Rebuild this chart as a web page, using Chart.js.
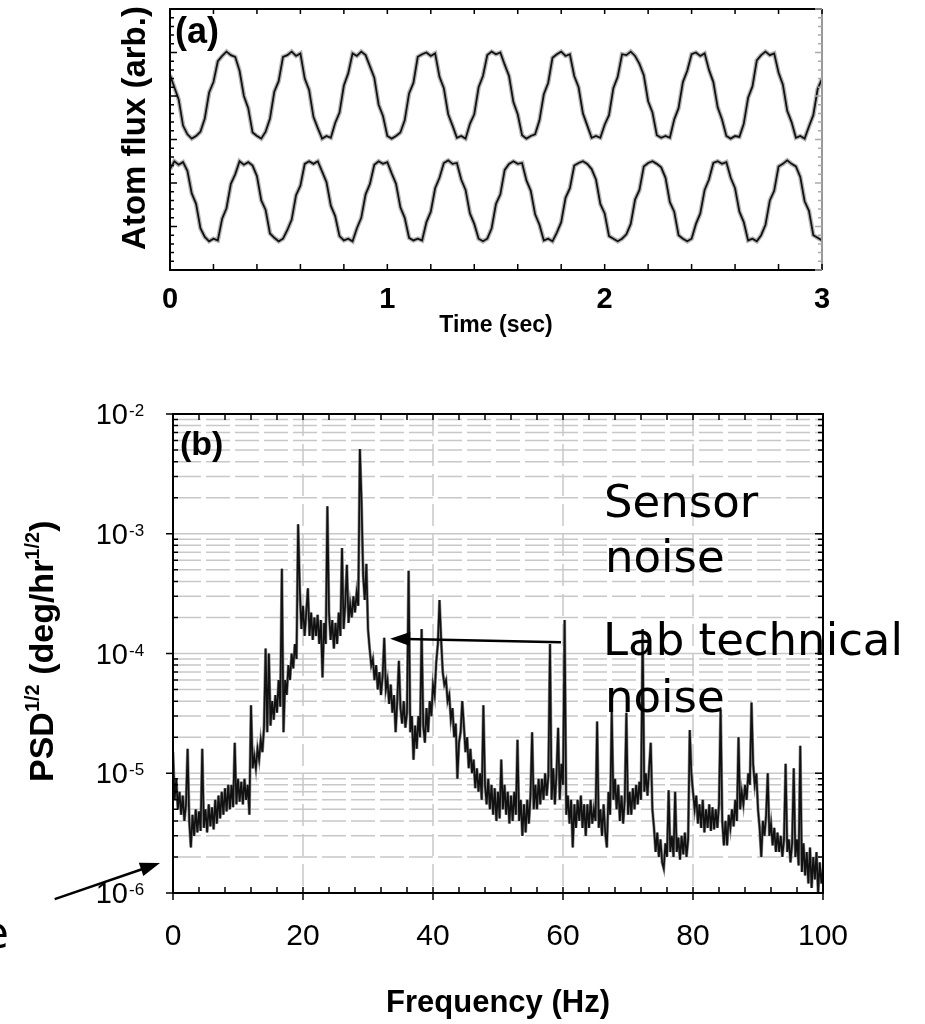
<!DOCTYPE html>
<html>
<head>
<meta charset="utf-8">
<script src="https://cdn.jsdelivr.net/npm/chart.js@4.4.0/dist/chart.umd.min.js"></script>
<style>
  html, body { margin: 0; padding: 0; background: #fff; }
  #wrap { position: relative; width: 925px; height: 1024px; overflow: hidden; }
  canvas { position: absolute; left: 0; }
</style>
</head>
<body>
<div id="wrap">
  <canvas id="fluxChart" width="925" height="360" style="top:0"></canvas>
  <canvas id="psdChart" width="925" height="664" style="top:360px"></canvas>
</div>
<script>
const FONT = "'Liberation Sans', Arial, Helvetica, sans-serif";
const NOTE_FONT = "'DejaVu Sans', Verdana, sans-serif";

// (a) atom flux, arbitrary units, one sample every 0.02 s from 0 to 3 s
const fluxTimeStep = 0.02;
const fluxUpper = [
  22.4, 21.0, 19.6, 16.6, 15.6, 15.1, 15.4, 15.9, 17.4, 20.4,
  21.6, 24.0, 24.6, 25.1, 24.7, 24.5, 22.9, 20.0, 18.6, 15.8,
  15.4, 15.1, 15.9, 17.4, 20.5, 21.7, 24.5, 24.7, 25.1, 24.6,
  24.9, 22.0, 20.7, 17.6, 16.3, 15.1, 15.4, 15.2, 16.9, 18.1,
  21.2, 22.6, 24.9, 24.6, 25.1, 24.7, 23.4, 22.1, 19.0, 17.7,
  15.4, 15.1, 15.4, 15.8, 17.2, 20.3, 21.5, 24.5, 24.8, 25.0,
  24.6, 24.9, 22.2, 20.9, 17.9, 16.6, 15.2, 15.4, 15.1, 16.8,
  17.9, 21.0, 22.3, 24.7, 25.1, 24.8, 25.0, 23.6, 22.3, 19.3,
  17.9, 15.5, 15.1, 15.4, 15.6, 17.2, 20.2, 21.5, 24.4, 24.8,
  25.1, 24.6, 24.8, 22.3, 21.0, 18.0, 16.6, 15.2, 15.4, 15.2,
  16.7, 17.8, 20.9, 22.2, 24.8, 24.7, 25.1, 24.6, 23.7, 22.4,
  19.4, 18.1, 15.5, 15.2, 15.4, 15.2, 17.3, 18.6, 21.6, 22.9,
  24.8, 25.0, 24.6, 24.9, 23.0, 21.6, 18.7, 17.3, 15.4, 15.1,
  15.4, 15.3, 16.8, 19.8, 21.1, 24.1, 24.7, 25.1, 24.7, 24.9,
  22.7, 21.3, 18.3, 17.0, 15.2, 15.4, 15.1, 16.5, 17.8, 20.8,
  22.0
];
const fluxLower = [
  11.6, 12.5, 12.1, 12.4, 11.4, 8.8, 7.6, 4.8, 3.8, 3.3,
  3.6, 3.4, 5.9, 7.1, 9.9, 11.0, 12.5, 12.1, 12.4, 12.0,
  10.8, 8.0, 6.9, 4.2, 3.7, 3.3, 3.6, 4.6, 5.8, 8.6,
  9.7, 12.2, 12.5, 12.2, 12.5, 11.3, 10.1, 7.4, 6.2, 3.9,
  3.4, 3.6, 3.3, 4.8, 6.0, 8.7, 9.9, 12.1, 12.5, 12.2,
  12.4, 11.1, 9.9, 7.2, 6.0, 3.7, 3.4, 3.6, 3.4, 5.5,
  6.7, 9.4, 10.6, 12.3, 12.6, 12.2, 12.3, 10.4, 9.2, 6.5,
  5.3, 3.6, 3.3, 3.6, 4.8, 7.6, 8.7, 11.5, 12.2, 12.5,
  12.2, 12.3, 10.3, 9.1, 6.4, 5.2, 3.4, 3.6, 3.3, 4.3,
  5.5, 8.3, 9.4, 12.0, 12.3, 12.5, 12.2, 11.6, 10.4, 7.6,
  6.5, 3.9, 3.6, 3.3, 3.6, 4.1, 5.3, 8.1, 9.2, 11.9,
  12.3, 12.5, 12.2, 11.8, 10.6, 7.8, 6.7, 4.0, 3.6, 3.3,
  3.6, 5.3, 6.5, 9.2, 10.4, 12.3, 12.5, 12.2, 12.4, 10.6,
  9.4, 6.7, 5.5, 3.4, 3.6, 3.3, 4.0, 5.2, 8.0, 9.1,
  11.9, 12.2, 12.6, 12.2, 11.9, 10.7, 7.9, 6.8, 4.0, 3.7,
  3.4
];
const timeTicks = [0, 1, 2, 3];

// (b) PSD^1/2 in deg/hr^1/2, one sample every 0.25 Hz from 0 to 100 Hz
const psdFreqStep = 0.25;
const psdValues = [
  1.5e-5,6e-6,9e-6,5e-6, 7e-6,4.5e-6,6.5e-6,4e-6, 5.5e-6,1.6e-5,4e-6,2.4e-6, 4.5e-6,3e-6,5e-6,3.2e-6, 4.8e-6,3.3e-6,1.6e-5,3.5e-6,
  5e-6,3.2e-6,5.5e-6,3.6e-6, 5.2e-6,3.4e-6,6e-6,3.8e-6, 6.5e-6,4.2e-6,7e-6,4.5e-6, 7.5e-6,4.8e-6,8e-6,5e-6, 8e-6,5.2e-6,1.8e-5,5.5e-6,
  9e-6,5.8e-6,8.5e-6,5.5e-6, 9e-6,6e-6,8e-6,4.5e-6, 3.7e-5,1.1e-5,1.4e-5,1.1e-5, 1.6e-5,1.3e-5,1.9e-5,1.5e-5, 2.4e-5,1.1e-4,2.2e-5,1e-4,
  2.5e-5,4e-5,2.8e-5,4.5e-5, 3.2e-5,6e-5,3.6e-5,5.1e-4, 2.2e-5,6e-5,4.5e-5,8e-5, 6e-5,1e-4,7.5e-5,1.2e-4, 9e-5,1.2e-3,3.5e-4,1.6e-4,
  2.5e-4,1.4e-4,2.2e-4,3.5e-4, 1.4e-4,2.2e-4,1.3e-4,2e-4, 1.4e-4,2.1e-4,1.2e-4,1.9e-4, 6.3e-5,1.8e-4,1.2e-4,1.7e-3, 2.2e-4,1.3e-4,1.9e-4,1.1e-4,
  1.8e-4,1.2e-4,2.2e-4,1.4e-4, 7.6e-4,1.6e-4,2.6e-4,5.5e-4, 1.8e-4,2.6e-4,2e-4,3e-4, 2.2e-4,3.2e-4,2.5e-4,5.1e-3, 1.9e-3,4.5e-4,2.8e-4,5.6e-4,
  1.6e-4,1.1e-4,8e-5,9e-5, 6e-5,8e-5,5e-5,7e-5, 4.5e-5,6.5e-5,1.35e-4,5e-5, 6e-5,3.8e-5,5.5e-5,3.2e-5, 4.5e-5,2.2e-5,4e-5,8.7e-5,
  3.5e-5,2.6e-5,4e-5,2.4e-5, 3.2e-5,4.9e-4,2.2e-5,3e-5, 1.3e-5,2.5e-5,1.6e-5,3e-5, 2e-5,1.6e-4,2.5e-5,1.8e-5, 3.5e-5,2.2e-5,4e-5,3e-5,
  5.5e-5,4.5e-5,8.5e-5,1.2e-4, 2.8e-4,1.3e-4,7e-5,5.5e-5, 6e-5,4e-5,4.5e-5,2.8e-5, 3.5e-5,2e-5,2.6e-5,9e-6, 1.8e-5,2.2e-5,4e-5,2.5e-5,
  1.5e-5,2e-5,1.1e-5,1.6e-5, 1e-5,1.3e-5,7.5e-6,1.1e-5, 7e-6,1e-5,6e-6,3.7e-5, 8e-6,5.5e-6,9e-6,5e-6, 8e-6,4.5e-6,7.5e-6,4e-6,
  7e-6,4.2e-6,1.3e-5,5e-6, 8e-6,4.5e-6,7e-6,3.8e-6, 6.5e-6,4e-6,7e-6,4.5e-6, 1.9e-5,4e-6,6e-6,3e-6, 5.5e-6,3.2e-6,6e-6,3.8e-6,
  6.5e-6,2.2e-5,5e-6,8e-6, 5e-6,9e-6,5.5e-6,9e-6, 6e-6,1e-5,6.5e-6,9.5e-6, 1.2e-4,6e-6,1.1e-5,5.5e-6, 1e-5,2.4e-5,6e-6,1.2e-5,
  8e-6,1.9e-4,4.5e-6,6.5e-6, 3.8e-6,6e-6,2.4e-6,5.5e-6, 3.5e-6,6e-6,4e-6,6.5e-6, 3.5e-6,5.5e-6,3e-6,5.5e-6, 3.5e-6,6e-6,3.8e-6,5e-6,
  4e-6,2.7e-5,3.5e-6,5e-6, 3e-6,5.5e-6,3.2e-6,2.4e-6, 7e-6,4.5e-6,3.3e-5,6e-6, 9e-6,5e-6,8e-6,4e-6, 6.5e-6,3.8e-6,6e-6,3.2e-5,
  4.5e-6,7e-6,4.5e-6,7.5e-6, 5e-6,8e-6,5.5e-6,8.5e-6, 6e-6,1.6e-4,7e-6,1e-5, 6.5e-6,1.1e-5,1.8e-5,5e-6, 3.5e-6,2.2e-6,3.2e-6,2e-6,
  2.8e-6,1.8e-6,1.6e-6,2.6e-6, 2e-6,7.2e-6,2.2e-6,3e-6, 2e-6,7e-6,2.2e-6,2.9e-6, 1.9e-6,3e-6,2.1e-6,3.2e-6, 2e-6,2.8e-6,2.3e-5,1e-5,
  7e-6,5e-6,6.5e-6,3.8e-6, 5.5e-6,3.5e-6,6e-6,3.2e-6, 5e-6,3.5e-6,5.5e-6,3.3e-6, 5.2e-6,3.4e-6,5e-6,3.5e-6, 5.5e-6,3.4e-5,4e-6,2.5e-6,
  4e-6,2.5e-6,4.5e-6,3.5e-6, 5e-6,3.6e-6,6e-6,4e-6, 2e-5,5e-6,7e-6,5.5e-6, 8e-6,6e-6,1e-5,8e-6, 3.9e-5,1.2e-5,8e-6,1e-5,
  5e-6,3.5e-6,2e-6,4e-6, 3e-6,4.5e-6,1e-5,3e-6, 3.8e-6,2.5e-6,3.5e-6,2.2e-6, 3.2e-6,2.2e-6,3e-6,2e-6, 2.8e-6,1.2e-5,2.2e-6,2.8e-6,
  1.8e-6,2.6e-6,1.1e-5,2e-6, 2.8e-6,1.7e-6,1.7e-5,1.5e-6, 2.6e-6,1.4e-6,2.2e-6,1.2e-6, 2.4e-6,1.1e-6,2e-6,1.3e-6, 2.2e-6,1e-6,1.8e-6,1.2e-6,
  1.6e-6
];
const freqTicks = [0, 20, 40, 60, 80, 100];
const freqGrid = [20, 40, 60, 80];
const psdDecades = [1e-6, 1e-5, 1e-4, 1e-3, 1e-2];
const psdDecadeExp = ['-6', '-5', '-4', '-3', '-2'];
const logMinor = [2, 3, 4, 5, 6, 7, 8, 9];

function drawArrow(ctx, x1, y1, x2, y2, head, half) {
  const a = Math.atan2(y2 - y1, x2 - x1);
  const c = Math.cos(a), s = Math.sin(a);
  ctx.beginPath();
  ctx.moveTo(x1, y1);
  ctx.lineTo(x2 - head * 0.8 * c, y2 - head * 0.8 * s);
  ctx.stroke();
  ctx.beginPath();
  ctx.moveTo(x2, y2);
  ctx.lineTo(x2 - head * c + half * s, y2 - head * s - half * c);
  ctx.lineTo(x2 - head * c - half * s, y2 - head * s + half * c);
  ctx.closePath();
  ctx.fill();
}

// a line drawn twice: a soft grey halo under a dark core, like the scanned trace
function tracePair(points, coreWidth, haloWidth, haloColor) {
  return [
    {data: points, borderColor: '#111', borderWidth: coreWidth, pointRadius: 0, tension: 0, order: 1},
    {data: points, borderColor: haloColor, borderWidth: haloWidth, pointRadius: 0, tension: 0, order: 2}
  ];
}

// frame, inward ticks and labels of panel (a)
const fluxDecor = {
  id: 'fluxDecor',
  afterDatasetsDraw(chart) {
    const {ctx, chartArea: a, scales: {x, y}} = chart;
    ctx.save();
    ctx.lineWidth = 2;
    ctx.strokeStyle = '#000';
    ctx.beginPath();
    ctx.moveTo(a.right, a.top); ctx.lineTo(a.left, a.top);
    ctx.lineTo(a.left, a.bottom); ctx.lineTo(a.right, a.bottom);
    ctx.stroke();
    ctx.strokeStyle = '#999';
    ctx.beginPath(); ctx.moveTo(a.right, a.top); ctx.lineTo(a.right, a.bottom); ctx.stroke();

    ctx.lineWidth = 1.5;
    ctx.strokeStyle = '#000';
    ctx.beginPath();
    for (let k = 0; k <= 15; k++) {
      const px = x.getPixelForValue(k * 0.2);
      ctx.moveTo(px, a.bottom); ctx.lineTo(px, a.bottom - 6);
      ctx.moveTo(px, a.top); ctx.lineTo(px, a.top + 5);
    }
    for (let v = 0; v <= 30; v++) {
      const py = y.getPixelForValue(v);
      ctx.moveTo(a.left, py); ctx.lineTo(a.left + (v % 5 === 0 ? 7 : 4), py);
    }
    ctx.stroke();
    ctx.strokeStyle = '#aaa';
    ctx.beginPath();
    for (let v = 0; v <= 30; v++) {
      const py = y.getPixelForValue(v);
      ctx.moveTo(a.right, py); ctx.lineTo(a.right - (v % 5 === 0 ? 7 : 4), py);
    }
    ctx.stroke();

    ctx.fillStyle = '#000';
    ctx.font = `bold 36px ${FONT}`;
    ctx.textBaseline = 'alphabetic';
    ctx.fillText('(a)', a.left + 5, 43);
    ctx.translate(145, 128);
    ctx.rotate(-Math.PI / 2);
    ctx.font = `bold 33px ${FONT}`;
    ctx.textAlign = 'center';
    ctx.fillText('Atom flux (arb.)', 0, 0);
    ctx.restore();
  }
};

// grid, frame, ticks, power labels and notes of panel (b)
const psdDecor = {
  id: 'psdDecor',
  beforeDatasetsDraw(chart) {
    const {ctx, chartArea: a, scales: {x, y}} = chart;
    ctx.save();
    ctx.strokeStyle = '#c8c8c8';
    ctx.lineWidth = 1.5;
    psdDecades.slice(0, -1).forEach(d => {
      ctx.setLineDash([]);
      const p0 = y.getPixelForValue(d);
      ctx.beginPath(); ctx.moveTo(a.left, p0); ctx.lineTo(a.right, p0); ctx.stroke();
      ctx.setLineDash([24, 5]);
      logMinor.forEach(m => {
        const py = y.getPixelForValue(m * d);
        ctx.beginPath(); ctx.moveTo(a.left + 4, py); ctx.lineTo(a.right, py); ctx.stroke();
      });
    });
    ctx.setLineDash([22, 8]);
    freqGrid.forEach(f => {
      const px = x.getPixelForValue(f);
      ctx.beginPath(); ctx.moveTo(px, a.top); ctx.lineTo(px, a.bottom); ctx.stroke();
    });
    ctx.restore();
  },
  afterDatasetsDraw(chart) {
    const {ctx, chartArea: a, scales: {x, y}} = chart;
    ctx.save();
    ctx.strokeStyle = '#000';
    ctx.lineWidth = 2;
    ctx.strokeRect(a.left, a.top, a.right - a.left, a.bottom - a.top);

    ctx.lineWidth = 1.5;
    ctx.beginPath();
    for (let f = 0; f <= 100; f += 4) {
      const px = x.getPixelForValue(f);
      ctx.moveTo(px, a.bottom); ctx.lineTo(px, a.bottom - 6);
      ctx.moveTo(px, a.top); ctx.lineTo(px, a.top + 6);
    }
    freqTicks.forEach(f => {
      const px = x.getPixelForValue(f);
      ctx.moveTo(px, a.bottom); ctx.lineTo(px, a.bottom + 7);
    });
    psdDecades.forEach(d => {
      const py = y.getPixelForValue(d);
      ctx.moveTo(a.left - 7, py); ctx.lineTo(a.left, py);
      ctx.moveTo(a.right, py); ctx.lineTo(a.right - 8, py);
      if (d < 1e-2) {
        logMinor.forEach(m => {
          const pm = y.getPixelForValue(m * d);
          ctx.moveTo(a.left, pm); ctx.lineTo(a.left + 5, pm);
          ctx.moveTo(a.right, pm); ctx.lineTo(a.right - 5, pm);
        });
      }
    });
    ctx.stroke();

    ctx.fillStyle = '#000';
    ctx.textBaseline = 'alphabetic';
    psdDecades.forEach((d, i) => {
      const py = y.getPixelForValue(d);
      ctx.textAlign = 'right';
      ctx.font = `29px ${FONT}`;
      ctx.fillText('10', 128, py + 10);
      ctx.textAlign = 'left';
      ctx.font = `17px ${FONT}`;
      ctx.fillText(psdDecadeExp[i], 129, py + 2);
    });

    ctx.font = `bold 34px ${FONT}`;
    ctx.fillText('(b)', a.left + 7, 95);

    // rotated axis title with superscripts
    ctx.save();
    ctx.translate(53, 422);
    ctx.rotate(-Math.PI / 2);
    let cx = 0;
    [['PSD', 34, 0], ['1/2', 20, -14], [' (deg/hr', 34, 0], ['1/2', 20, -14], [')', 34, 0]].forEach(([t, s, dy]) => {
      ctx.font = `bold ${s}px ${FONT}`;
      ctx.fillText(t, cx, dy);
      cx += ctx.measureText(t).width;
    });
    ctx.restore();

    ctx.font = `45px ${NOTE_FONT}`;
    ctx.fillText('Sensor', 604, 157);
    ctx.fillText('noise', 605, 212);
    ctx.fillText('Lab technical', 603, 295);
    ctx.fillText('noise', 605, 352);
    ctx.textAlign = 'right';
    ctx.fillText('noise', 9, 588);

    ctx.lineWidth = 2.5;
    drawArrow(ctx, x.getPixelForValue(59.7), y.getPixelForValue(1.24e-4),
      x.getPixelForValue(33.4), y.getPixelForValue(1.33e-4), 20, 7);
    drawArrow(ctx, x.getPixelForValue(-18.2), y.getPixelForValue(8.9e-7),
      x.getPixelForValue(-2), y.getPixelForValue(1.78e-6), 20, 7);
    ctx.restore();
  }
};

let fluxChart = new Chart(document.getElementById('fluxChart').getContext('2d'), {
  type: 'line',
  data: {
    datasets: [fluxUpper, fluxLower].flatMap(series =>
      tracePair(series.map((v, i) => ({x: i * fluxTimeStep, y: v})), 1.8, 4.5, '#b5b5b5'))
  },
  options: {
    responsive: false,
    animation: false,
    devicePixelRatio: 1,
    layout: {padding: {top: 9, right: 103, left: 0, bottom: 0}},
    plugins: {legend: {display: false}, tooltip: {enabled: false}},
    scales: {
      x: {
        type: 'linear', min: 0, max: 3,
        afterBuildTicks: s => { s.ticks = timeTicks.map(v => ({value: v})); },
        afterFit: s => { s.height = 90; },
        grid: {display: false, drawTicks: false},
        border: {display: false},
        ticks: {color: '#000', padding: 13, maxRotation: 0, font: {family: FONT, size: 29, weight: 'bold'}},
        title: {display: true, text: 'Time (sec)', color: '#000', padding: {top: 0, bottom: 21},
          font: {family: FONT, size: 23, weight: 'bold'}}
      },
      y: {
        min: 0, max: 30,
        afterFit: s => { s.width = 170; },
        grid: {display: false},
        border: {display: false},
        ticks: {display: false}
      }
    }
  },
  plugins: [fluxDecor]
});

let psdChart = new Chart(document.getElementById('psdChart').getContext('2d'), {
  type: 'line',
  data: {
    datasets: tracePair(psdValues.map((v, i) => ({x: i * psdFreqStep, y: v})), 1.7, 3, '#8c8c8c')
  },
  options: {
    responsive: false,
    animation: false,
    devicePixelRatio: 1,
    layout: {padding: {top: 54, right: 102, left: 0, bottom: 0}},
    plugins: {legend: {display: false}, tooltip: {enabled: false}},
    scales: {
      x: {
        type: 'linear', min: 0, max: 100,
        afterBuildTicks: s => { s.ticks = freqTicks.map(v => ({value: v})); },
        afterFit: s => { s.height = 131; },
        grid: {display: false, drawTicks: false},
        border: {display: false},
        ticks: {color: '#000', padding: 26, maxRotation: 0, font: {family: FONT, size: 30}},
        title: {display: true, text: 'Frequency (Hz)', color: '#000', padding: {top: 0, bottom: 2},
          font: {family: FONT, size: 31, weight: 'bold'}}
      },
      y: {
        type: 'logarithmic', min: 1e-6, max: 1e-2,
        afterFit: s => { s.width = 173; },
        grid: {display: false},
        border: {display: false},
        ticks: {display: false}
      }
    }
  },
  plugins: [psdDecor]
});
</script>
</body>
</html>
